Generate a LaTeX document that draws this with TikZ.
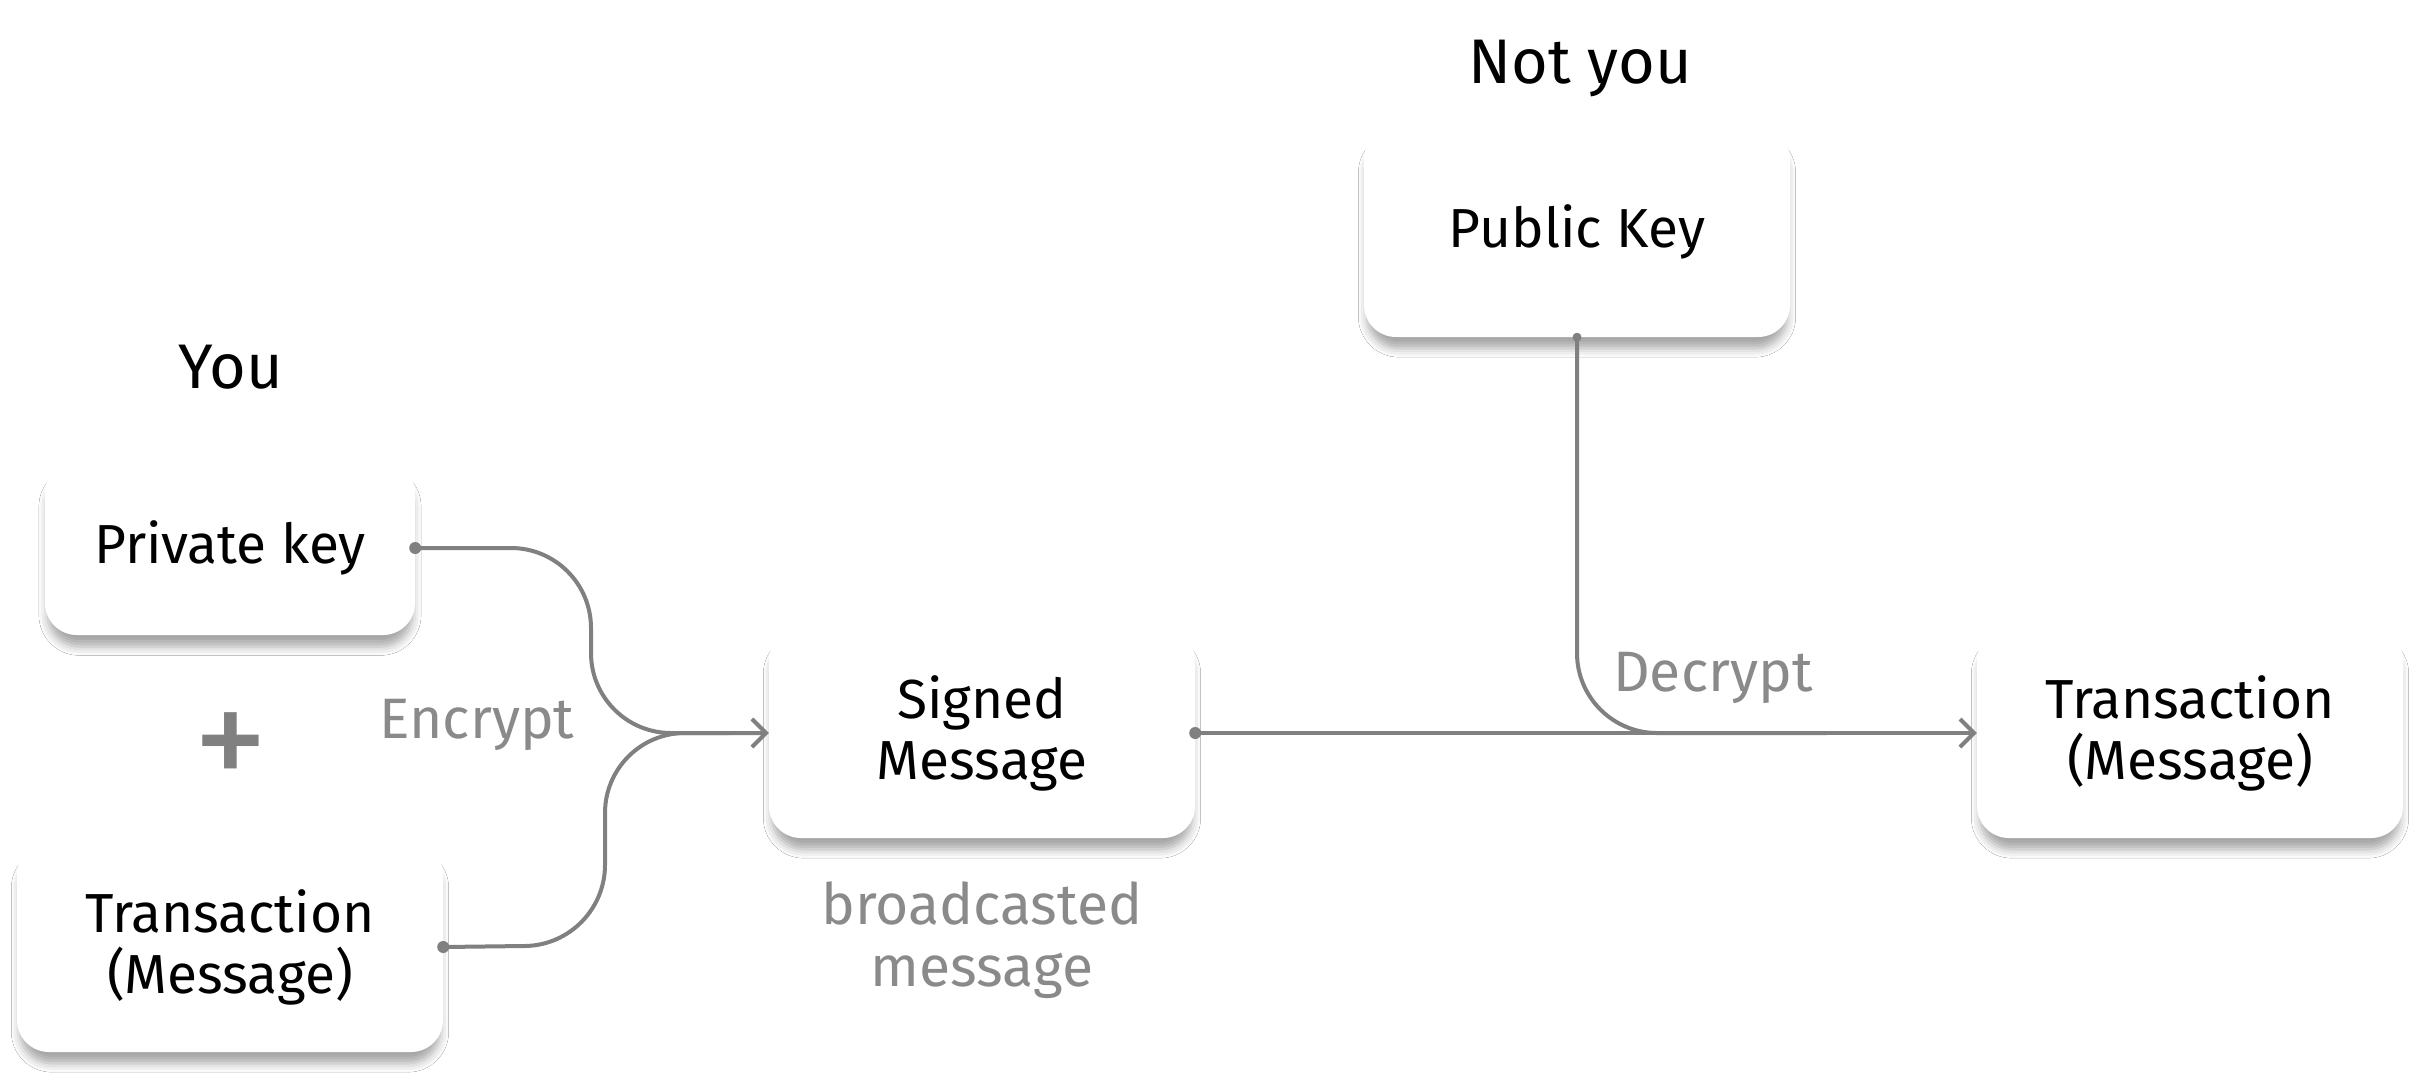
\documentclass[tikz,border=0pt]{standalone}
\usepackage{fontspec}
\setmainfont{Fira Sans}
\usetikzlibrary{arrows.meta,shadows.blur}
\definecolor{linegray}{HTML}{808080}
\definecolor{labgray}{HTML}{8A8A8A}
\tikzset{
  box/.style={rectangle, rounded corners=32pt, fill=white, align=center,
    minimum width=426pt, minimum height=210pt,
    font=\fontsize{55}{61}\selectfont,
    blur shadow={shadow xshift=0pt, shadow yshift=-13pt, shadow blur radius=9pt, shadow scale=0.985, shadow opacity=35}},
  title/.style={font=\fontsize{63}{70}\selectfont, text=black},
  glabel/.style={font=\fontsize{57}{62}\selectfont, text=labgray, align=center},
  conn/.style={draw=linegray, line width=4pt, rounded corners=80pt},
  arr/.style={-{Straight Barb[length=14pt,width=28pt,line width=4pt]}},
  dotcap/.style={fill=linegray, circle, inner sep=0pt, minimum size=12pt},
}
\begin{document}
\begin{tikzpicture}[x=1pt,y=-1pt]
\useasboundingbox[fill=white] (0,0) rectangle (2420,1088);
% nodes
\node[box, minimum width=370pt, minimum height=174pt] (pk) at (230,548) {Private key};
\node[box] (tx) at (230,947) {Transaction\\(Message)};
\node[box] (sm) at (982,733) {Signed\\Message};
\node[box] (pub) at (1577,232) {Public Key};
\node[box] (rtx) at (2190,733) {Transaction\\(Message)};
% titles and labels
\node[title] (you) at (231,367) {You};
\node[title] (notyou) at (1580,68) {Not you};
\node[font=\fontsize{150}{150}\selectfont, text=linegray] (plus) at (231,752) {+};
\node[glabel] (enc) at (477,725) {Encrypt};
\node[glabel] (dec) at (1713,678) {Decrypt};
\node[glabel] (bc) at (982,940) {broadcasted\\message};
% connectors
\coordinate (m1) at (591,548);
\coordinate (m2) at (605,945);
\draw[conn, arr] (pk.east) -- (m1) -- (m1 |- sm.west) -- (sm.west);
\draw[conn] (tx.east) -- (m2) -- (m2 |- sm.west) -- ([xshift=-40pt]sm.west);
\draw[conn, arr] (sm.east) -- (rtx.west);
\draw[conn] (pub.south) -- (pub.south |- rtx.west) -- ([xshift=-150pt]rtx.west);
% dots
\node[dotcap] at (pk.east) {};
\node[dotcap] at (tx.east) {};
\node[dotcap] at (sm.east) {};
\node[dotcap, minimum size=9pt] at (pub.south) {};
\end{tikzpicture}
\end{document}
